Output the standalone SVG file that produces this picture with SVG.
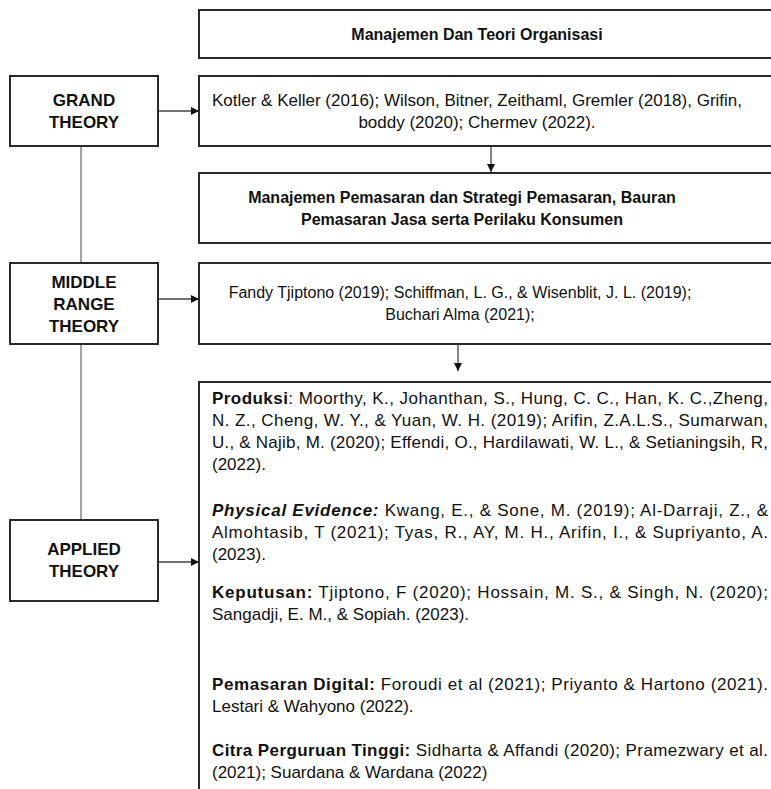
<svg xmlns="http://www.w3.org/2000/svg" width="771" height="789" viewBox="0 0 771 789">
<style>
.box{fill:#fff;stroke:#2a2a2a;stroke-width:2}
.t{font-family:"Liberation Sans",Arial,sans-serif;font-size:17px;fill:#111}
.s{font-size:16px}
.l{font-family:"Liberation Sans",Arial,sans-serif;font-size:17px;fill:#111;font-weight:bold;text-anchor:middle}
.c{text-anchor:middle}
.b{font-weight:bold}
.bi{font-weight:bold;font-style:italic}
.conn{stroke:#444;stroke-width:1.3;fill:none}
.spine{stroke:#8c8c8c;stroke-width:1.6;fill:none}
</style>
<defs>
<marker id="ah" viewBox="0 0 10 10" refX="10" refY="5" markerWidth="8" markerHeight="8" markerUnits="userSpaceOnUse" orient="auto">
<path d="M0,0 L10,5 L0,10 z" fill="#111"/>
</marker>
</defs>
<rect width="771" height="789" fill="#fff"/>
<g id="connectors">
<line class="spine" x1="81" y1="146" x2="81" y2="263"/>
<line class="spine" x1="81" y1="344" x2="81" y2="520"/>
<line class="conn" x1="158" y1="111" x2="199" y2="111" marker-end="url(#ah)"/>
<line class="conn" x1="158" y1="299" x2="199" y2="299" marker-end="url(#ah)"/>
<line class="conn" x1="158" y1="562" x2="199" y2="562" marker-end="url(#ah)"/>
<line class="conn" x1="491" y1="146" x2="491" y2="172" marker-end="url(#ah)"/>
<line class="conn" x1="458" y1="344" x2="458" y2="371" marker-end="url(#ah)"/>
</g>
<g id="title">
<rect class="box" x="199" y="10" width="600" height="48"/>
<text class="t s b c" x="477" y="40">Manajemen Dan Teori Organisasi</text>
</g>
<g id="grand-theory">
<rect class="box" x="10" y="76" width="148" height="70"/>
<text class="l" x="84" y="106">GRAND</text>
<text class="l" x="84" y="128">THEORY</text>
</g>
<g id="grand-refs">
<rect class="box" x="199" y="76" width="600" height="70"/>
<text class="t c" x="477" y="106">Kotler &amp; Keller (2016); Wilson, Bitner, Zeithaml, Gremler (2018), Grifin,</text>
<text class="t c" x="477" y="128">boddy (2020); Chermev (2022).</text>
</g>
<g id="marketing">
<rect class="box" x="199" y="173" width="600" height="70"/>
<text class="t s b c" x="462" y="203">Manajemen Pemasaran dan Strategi Pemasaran, Bauran</text>
<text class="t s b c" x="462" y="225">Pemasaran Jasa serta Perilaku Konsumen</text>
</g>
<g id="middle-range">
<rect class="box" x="10" y="263" width="148" height="81"/>
<text class="l" x="84" y="288">MIDDLE</text>
<text class="l" x="84" y="310">RANGE</text>
<text class="l" x="84" y="332">THEORY</text>
</g>
<g id="middle-refs">
<rect class="box" x="199" y="263" width="600" height="81"/>
<text class="t s c" x="460" y="298">Fandy Tjiptono (2019); Schiffman, L. G., &amp; Wisenblit, J. L. (2019);</text>
<text class="t s c" x="460" y="320">Buchari Alma (2021);</text>
</g>
<g id="applied-theory">
<rect class="box" x="10" y="520" width="148" height="81"/>
<text class="l" x="84" y="555">APPLIED</text>
<text class="l" x="84" y="577">THEORY</text>
</g>
<g id="applied-refs">
<rect class="box" x="199" y="382" width="600" height="420"/>
<text class="t" x="212" y="404" textLength="556" lengthAdjust="spacing"><tspan class="b">Produksi</tspan>: Moorthy, K., Johanthan, S., Hung, C. C., Han, K. C.,Zheng,</text>
<text class="t" x="212" y="426" textLength="556" lengthAdjust="spacing">N. Z., Cheng, W. Y., &amp; Yuan, W. H. (2019); Arifin, Z.A.L.S., Sumarwan,</text>
<text class="t" x="212" y="448" textLength="556" lengthAdjust="spacing">U., &amp; Najib, M. (2020); Effendi, O., Hardilawati, W. L., &amp; Setianingsih, R,</text>
<text class="t" x="212" y="470">(2022).</text>
<text class="t" x="212" y="516" textLength="556" lengthAdjust="spacing"><tspan class="bi">Physical Evidence:</tspan> Kwang, E., &amp; Sone, M. (2019); Al-Darraji, Z., &amp;</text>
<text class="t" x="212" y="538" textLength="556" lengthAdjust="spacing">Almohtasib, T (2021); Tyas, R., AY, M. H., Arifin, I., &amp; Supriyanto, A.</text>
<text class="t" x="212" y="560">(2023).</text>
<text class="t" x="212" y="598" textLength="556" lengthAdjust="spacing"><tspan class="b">Keputusan:</tspan> Tjiptono, F (2020); Hossain, M. S., &amp; Singh, N. (2020);</text>
<text class="t" x="212" y="620">Sangadji, E. M., &amp; Sopiah. (2023).</text>
<text class="t" x="212" y="690" textLength="556" lengthAdjust="spacing"><tspan class="b">Pemasaran Digital:</tspan> Foroudi et al (2021); Priyanto &amp; Hartono (2021).</text>
<text class="t" x="212" y="712">Lestari &amp; Wahyono (2022).</text>
<text class="t" x="212" y="756" textLength="556" lengthAdjust="spacing"><tspan class="b">Citra Perguruan Tinggi:</tspan> Sidharta &amp; Affandi (2020); Pramezwary et al.</text>
<text class="t" x="212" y="778">(2021); Suardana &amp; Wardana (2022)</text>
</g>
</svg>
